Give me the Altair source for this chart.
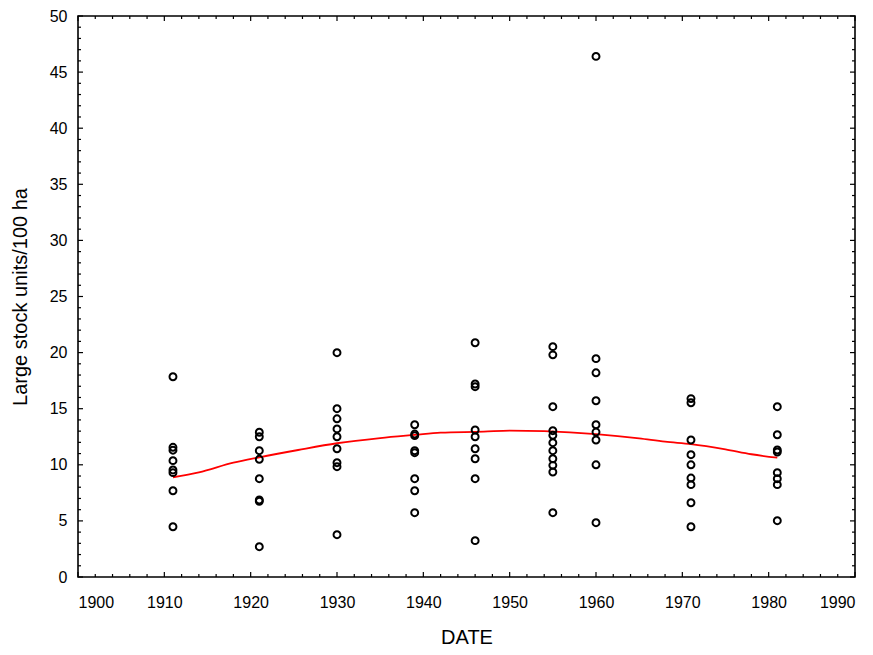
import altair as alt
import pandas as pd

# ---- data ----
years_1911 = [17.85, 11.56, 11.3, 10.37, 9.54, 9.3, 7.69, 4.48]
years_1921 = [12.9, 12.5, 11.26, 10.49, 8.76, 6.86, 6.75, 2.7]
years_1930 = [19.99, 15.0, 14.1, 13.2, 12.5, 11.43, 10.19, 9.83, 3.77]
years_1939 = [13.57, 12.74, 12.6, 11.26, 11.08, 8.76, 7.69, 5.73]
years_1946 = [20.88, 17.2, 16.96, 13.1, 12.5, 11.43, 10.54, 8.76, 3.24]
years_1955 = [20.53, 19.8, 15.18, 13.04, 12.63, 11.97, 11.26, 10.54, 9.95, 9.36, 5.73]
years_1960 = [46.4, 19.46, 18.2, 15.71, 13.57, 12.92, 12.21, 10.0, 4.84]
years_1971 = [15.9, 15.53, 12.21, 10.9, 10.0, 8.82, 8.23, 6.62, 4.48]
years_1981 = [15.18, 12.68, 11.32, 11.14, 9.3, 8.76, 8.23, 5.02]

groups = {1911: years_1911, 1921: years_1921, 1930: years_1930, 1939: years_1939,
          1946: years_1946, 1955: years_1955, 1960: years_1960, 1971: years_1971,
          1981: years_1981}

curve_x = [1911, 1914, 1918, 1921, 1925.5, 1930, 1935, 1939, 1942, 1947, 1950,
           1954, 1960, 1965, 1968, 1971, 1975, 1978, 1981]
curve_y = [8.89, 9.33, 10.19, 10.67, 11.32, 11.92, 12.38, 12.66, 12.86, 12.95, 13.05,
           13.0, 12.74, 12.36, 12.06, 11.85, 11.38, 10.94, 10.63]

x_major = list(range(1900, 1991, 10))
x_minor = [v for v in range(1900, 1991, 2) if v % 10 != 0]
y_major = list(range(0, 51, 5))
y_minor = [v for v in range(0, 51) if v % 5 != 0]

pts = pd.DataFrame([(yr, v) for yr, vals in groups.items() for v in vals],
                   columns=["DATE", "val"])
curve = pd.DataFrame({"DATE": curve_x, "val": curve_y})

W, H = 777, 561
FONT = "Liberation Sans"

xscale = alt.Scale(domain=[1900, 1990], nice=False, zero=False)
yscale = alt.Scale(domain=[0, 50], nice=False)

xaxis = alt.Axis(values=x_major, format="d", ticks=False, tickSize=0, domain=False,
                 grid=False, labelFontSize=16, labelPadding=17, title="DATE",
                 titleFontSize=20, titleFontWeight="normal", titlePadding=17,
                 labelFont=FONT, titleFont=FONT, labelColor="black", titleColor="black")
yaxis = alt.Axis(values=y_major, ticks=False, tickSize=0, domain=False, grid=False,
                 labelFontSize=16, labelPadding=11, title="Large stock units/100 ha",
                 titleFontSize=20, titleFontWeight="normal", titlePadding=19,
                 labelFont=FONT, titleFont=FONT, labelColor="black", titleColor="black")

points = alt.Chart(pts).mark_point(shape="circle", filled=False, color="black",
                                   size=48, strokeWidth=2, opacity=1).encode(
    x=alt.X("DATE:Q", scale=xscale, axis=xaxis),
    y=alt.Y("val:Q", scale=yscale, axis=yaxis),
)

line = alt.Chart(curve).mark_line(color="#ff0000", strokeWidth=1.8,
                                  interpolate="monotone").encode(
    x=alt.X("DATE:Q", scale=xscale),
    y=alt.Y("val:Q", scale=yscale),
)

def xticks(vals, length):
    df = pd.DataFrame({"t": vals})
    base = alt.Chart(df).mark_rule(color="black", strokeWidth=1.2)
    bottom = base.encode(x=alt.X("t:Q", scale=xscale), y=alt.value(H), y2=alt.value(H - length))
    top = base.encode(x=alt.X("t:Q", scale=xscale), y=alt.value(0), y2=alt.value(length))
    return [bottom, top]

def yticks(vals, length):
    df = pd.DataFrame({"t": vals})
    base = alt.Chart(df).mark_rule(color="black", strokeWidth=1.2)
    left = base.encode(y=alt.Y("t:Q", scale=yscale), x=alt.value(0), x2=alt.value(length))
    right = base.encode(y=alt.Y("t:Q", scale=yscale), x=alt.value(W), x2=alt.value(W - length))
    return [left, right]

tick_layers = xticks(x_major, 5) + xticks(x_minor, 3) + yticks(y_major, 5) + yticks(y_minor, 3)

chart = alt.layer(line, points, *tick_layers).properties(
    width=W, height=H,
    autosize=alt.AutoSizeParams(type="none"),
    padding={"left": 70, "top": 8, "right": 10, "bottom": 80},
    background="white",
).configure_view(stroke="black", strokeWidth=1.6)

chart.save("out.html", embed_options={"renderer": "svg", "actions": False})
